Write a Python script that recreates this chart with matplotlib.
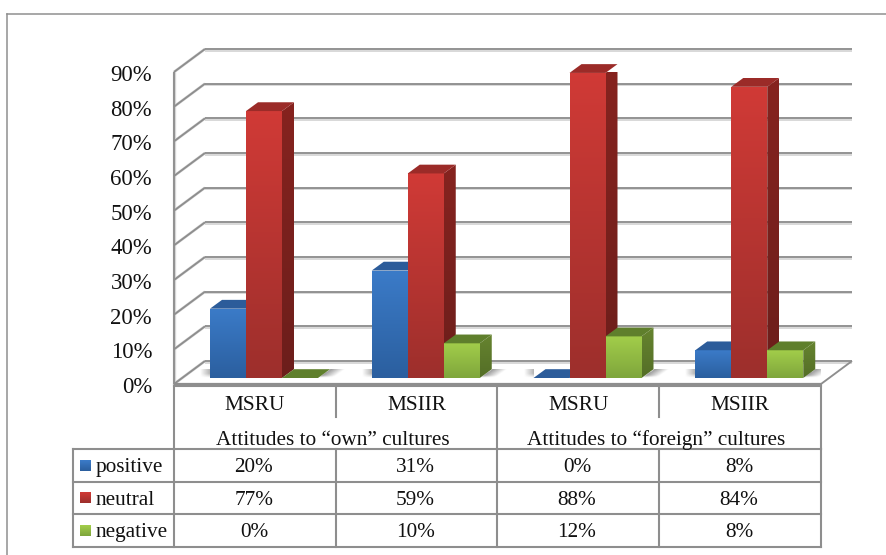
import matplotlib
matplotlib.use("Agg")
import matplotlib.pyplot as plt
import numpy as np
from matplotlib.colors import LinearSegmentedColormap
from matplotlib.patches import Polygon
from matplotlib.transforms import ScaledTranslation

plt.rcParams["font.family"] = ["Liberation Serif", "DejaVu Serif"]

# Survey results, percent of respondents
universities = ["MSRU", "MSIIR", "MSRU", "MSIIR"]
attitude_groups = ["Attitudes to “own” cultures", "Attitudes to “foreign” cultures"]
series_names = ["positive", "neutral", "negative"]
positive = [20, 31, 0, 8]
neutral = [77, 59, 88, 84]
negative = [0, 10, 12, 8]
y_ticks = [0, 10, 20, 30, 40, 50, 60, 70, 80, 90]

# Bar shading: front top, front bottom, side top, side bottom, roof
shades = {
    "positive": ("#3b7bc8", "#2b5f9f", "#2a5a94", "#234b7c", "#2c5c9a"),
    "neutral": ("#d03a36", "#9d2f2c", "#86231f", "#6c1e1b", "#9b2b28"),
    "negative": ("#a2cd4a", "#7fa63c", "#66842f", "#546e27", "#5f7f2c"),
}
GRID = "#8e8e8e"
GRID_SOFT = "#d6d6d6"
TEXT = "#111111"
TABLE_FONT = 15.3

W, H = 886, 555
fig = plt.figure(figsize=(W / 100, H / 100), dpi=100, facecolor="white")

# Front plane of the chart box
ax = fig.add_axes([174 / W, 1 - 384 / H, 647 / W, 312 / H])
ax.set_xlim(0, 4)
ax.set_ylim(0, 90)
ax.patch.set_alpha(0)
for side in ax.spines.values():
    side.set_visible(False)

# Conversion of pixel offsets to data units for the oblique projection
px_x = 4 / 647
px_y = 90 / 312
depth_x, depth_y = 31 * px_x, 23 * px_y
bar_w = 36 * px_x
bar_dx, bar_dy = 12 * px_x, 8.8 * px_y
floor_lift = 6 * px_y
group_pad = 36 * px_x


def line(xs, ys, color=GRID, lw=1.35, z=1):
    ax.plot(xs, ys, color=color, lw=lw, zorder=z, clip_on=False, solid_capstyle="butt")


# Walls and floor
for v in y_ticks:
    line([depth_x, 4 + depth_x], [v + depth_y - 0.45, v + depth_y - 0.45], GRID_SOFT, 1.3, 0.8)
    line([0, depth_x], [v, v + depth_y], GRID_SOFT, 2.0, 0.8)
    line([depth_x, 4 + depth_x], [v + depth_y, v + depth_y])
    line([0, depth_x], [v, v + depth_y])
line([0, 0], [0, 90], GRID_SOFT, 2.4, 0.8)
line([0, 0], [0, 90])
line([4, 4 + depth_x], [0, depth_y])
line([0, 4], [0, 0], GRID, 1.6, 1)


def gradient_fill(corners, top, bottom, z):
    """Fill a polygon with a vertical two-colour gradient."""
    pts = np.array(corners)
    cmap = LinearSegmentedColormap.from_list("g", [top, bottom])
    img = ax.imshow(
        np.linspace(0, 1, 64)[:, None], cmap=cmap, aspect="auto", interpolation="bilinear",
        extent=(pts[:, 0].min(), pts[:, 0].max(), pts[:, 1].min(), pts[:, 1].max()),
        zorder=z,
    )
    img.set_clip_path(Polygon(pts, closed=True, transform=ax.transData))


def soft_shadow(alpha, x_start, x_stop, z):
    """Paint a grey alpha mask on the floor; rows of the mask run from back to front."""
    rgba = np.zeros(alpha.shape + (4,))
    rgba[..., :3] = 0.35
    rgba[..., 3] = alpha
    ax.imshow(rgba, aspect="auto", interpolation="bilinear", zorder=z,
              extent=(x_start, x_stop, floor_lift, floor_lift + bar_dy))


def floor_shadow(x0, x1, z):
    """Shadow fading away from both sides of a bar cluster."""
    rows = np.linspace(1, 0, 12)[:, None]
    # right of the cluster, following the slant of the bar's base
    reach = 15.0
    u = np.linspace(0, 12 + reach, 54)[None, :]
    d = u - rows * 12
    right = 0.62 * np.clip(1 - d / reach, 0, 1) * (d >= 0) * np.clip(rows * 3.5, 0, 1)
    soft_shadow(right, x1, x1 + (12 + reach) * px_x, z)
    # left of the cluster, a short wedge
    reach = 10.0
    u = np.linspace(reach, 0, 24)[None, :]
    left = 0.45 * np.clip(1 - u / reach, 0, 1) * np.clip(rows * 2.0, 0, 1)
    soft_shadow(left, x0 - reach * px_x, x0, z)


# Bars, drawn left to right so each front hides the neighbour's side
series = [positive, neutral, negative]
z = 2.0
for g in range(len(universities)):
    g_left = g + group_pad
    floor_shadow(g_left, g_left + 3 * bar_w, z)
    z += 0.01
    for s, values in enumerate(series):
        v = values[g]
        x0 = g_left + s * bar_w
        x1 = x0 + bar_w
        y0 = floor_lift
        y1 = y0 + v
        front_top, front_bot, side_top, side_bot, roof = shades[series_names[s]]
        if v > 0:
            gradient_fill([(x1, y0), (x1 + bar_dx, y0 + bar_dy), (x1 + bar_dx, y1 + bar_dy), (x1, y1)],
                          side_top, side_bot, z)
            z += 0.01
            gradient_fill([(x0, y0), (x1, y0), (x1, y1), (x0, y1)], front_top, front_bot, z)
            z += 0.01
        ax.add_patch(Polygon([(x0, y1), (x1, y1), (x1 + bar_dx, y1 + bar_dy), (x0 + bar_dx, y1 + bar_dy)],
                             closed=True, fc=roof, ec="none", zorder=z, clip_on=False))
        z += 0.01
ax.set_xlim(0, 4)
ax.set_ylim(0, 90)

# Axis labels
ax.set_yticks(y_ticks, [f"{v}%" for v in y_ticks], fontsize=16.4, color=TEXT, va="baseline")
ax.set_xticks(np.arange(4) + 0.5, universities, fontsize=TABLE_FONT, color=TEXT)
ax.tick_params(axis="both", length=0)
ax.tick_params(axis="y", pad=15.8)
ax.tick_params(axis="x", pad=8.5)
shift_down = ScaledTranslation(0, -9 / 100, fig.dpi_scale_trans)
for lab in ax.get_yticklabels():
    lab.set_transform(lab.get_transform() + shift_down)

# Data table below the chart, laid out in pixel coordinates
tb = fig.add_axes([0, 0, 1, 1], zorder=-1)
tb.set_xlim(0, W)
tb.set_ylim(H, 0)
tb.axis("off")

col_x = [174, 336, 497, 659, 821]
row_y = [449, 481.5, 514, 547]
legend_left = 73


def rule(xs, ys, color=GRID, lw=1.5):
    tb.plot(xs, ys, color=color, lw=lw, solid_capstyle="projecting")


# Outer frame of the figure
rule([7, 7], [14, H], "#8f8f8f", 1.1)
rule([7, W], [14, 14], "#8f8f8f", 1.1)

for y in row_y:
    rule([legend_left, 821], [y, y])
rule([174, 821], [385.5, 385.5])
rule([legend_left, legend_left], [449, 547])
for x in (174, 497, 821):
    rule([x, x], [385, 449])
for x in (336, 659):
    rule([x, x], [385, 417])
for x in col_x:
    rule([x, x], [449, 547])

for i, name in enumerate(attitude_groups):
    tb.text((col_x[2 * i] + col_x[2 * i + 2]) / 2 - 2.5, 445, name, ha="center", va="baseline",
            fontsize=TABLE_FONT, color=TEXT)

row_base = [472, 505, 537]
for s, values in enumerate(series):
    name = series_names[s]
    front_top, front_bot = shades[name][:2]
    cy = (row_y[s] + row_y[s + 1]) / 2
    cmap = LinearSegmentedColormap.from_list("g", [front_top, front_bot])
    tb.imshow(np.linspace(0, 1, 16)[:, None], cmap=cmap, aspect="auto",
              extent=(80, 91, cy + 5.5, cy - 5.5), origin="upper", zorder=3)
    tb.text(95.5, row_base[s], name, ha="left", va="baseline", fontsize=TABLE_FONT, color=TEXT)
    for g, v in enumerate(values):
        tb.text((col_x[g] + col_x[g + 1]) / 2 - 1, row_base[s], f"{v}%", ha="center", va="baseline",
                fontsize=TABLE_FONT, color=TEXT)
tb.set_xlim(0, W)
tb.set_ylim(H, 0)

fig.savefig("out.png", dpi=100)
